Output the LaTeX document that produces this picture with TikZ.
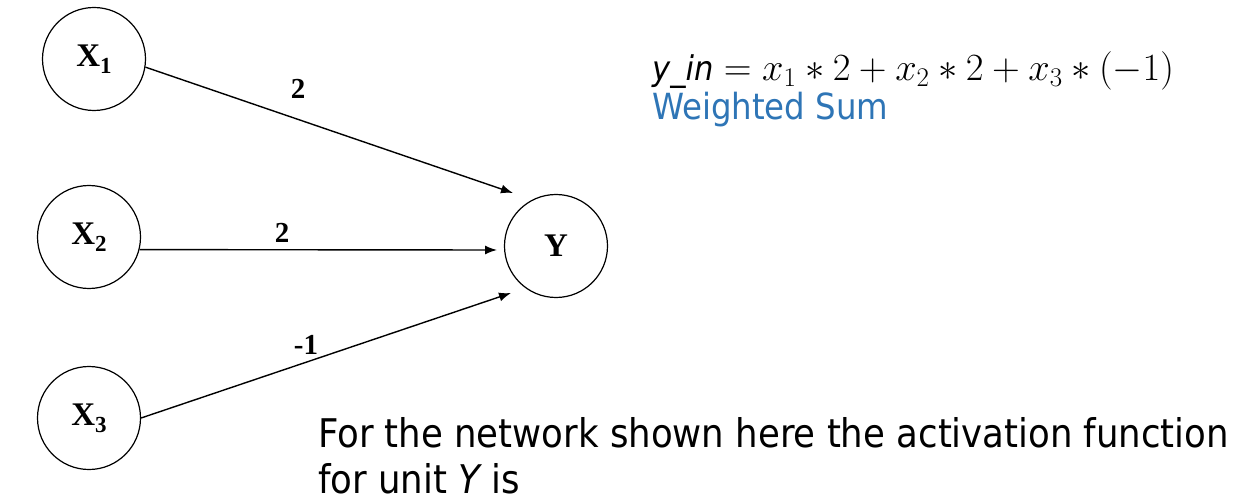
\RequirePackage{fix-cm}
\documentclass[tikz,border=0pt]{standalone}
\usepackage{fontspec}
\usetikzlibrary{arrows.meta}
\newfontfamily\tnr{Liberation Serif}
\newfontfamily\tah{DejaVu Sans Condensed}
\definecolor{wsblue}{RGB}{46,117,182}
\begin{document}
\begin{tikzpicture}[x=1pt,y=-1pt]
\tikzset{
  unit/.style={circle,draw,line width=1.2pt,minimum size=103pt,inner sep=0pt,font=\tnr\fontsize{33}{33}\selectfont\bfseries},
  conn/.style={line width=1.4pt,-{Latex[length=12pt,width=9pt]}},
  wlabel/.style={font=\tnr\fontsize{29}{29}\selectfont\bfseries,inner sep=0pt}
}
\newcommand{\xsub}[1]{\raisebox{-7pt}{\fontsize{23}{23}\selectfont #1}}
\useasboundingbox (0,0) rectangle (1246,502);
\node[unit] (x1) at (94,59) {X\xsub{1}};
\node[unit] (x2) at (89,237) {X\xsub{2}};
\node[unit] (x3) at (89,418) {X\xsub{3}};
\node[unit] (y) at (556,246) {Y};
\coordinate (t1) at (513,193);
\coordinate (t2) at (497,250);
\coordinate (t3) at (511,293);
\draw[conn] (x1.-9) -- (t1);
\draw[conn] (x2.-14.5) -- (t2);
\draw[conn] (x3.0) -- (t3);
\node[wlabel] (l1) at (298,89) {2};
\node[wlabel] (l2) at (282,233) {2};
\node[wlabel] (l3) at (306,345) {-1};
\node[anchor=base west,inner sep=0pt,font=\fontsize{34}{34}\selectfont] (eq) at (652,81)
  {{\tah\itshape y\_in} {\fontsize{38.5}{38}\selectfont$= x_1 \ast 2 + x_2 \ast 2 + x_3 \ast (-1)$}};
\node[anchor=base west,inner sep=0pt,text=wsblue,font=\tah\fontsize{36}{36}\selectfont] (ws) at (652,120) {Weighted Sum};
\node[anchor=base west,inner sep=0pt,align=left,font=\tah\fontsize{39.5}{46}\selectfont] (q) at (318,493)
  {For the network shown here the activation function\\for unit {\itshape Y} is};
\end{tikzpicture}
\end{document}
